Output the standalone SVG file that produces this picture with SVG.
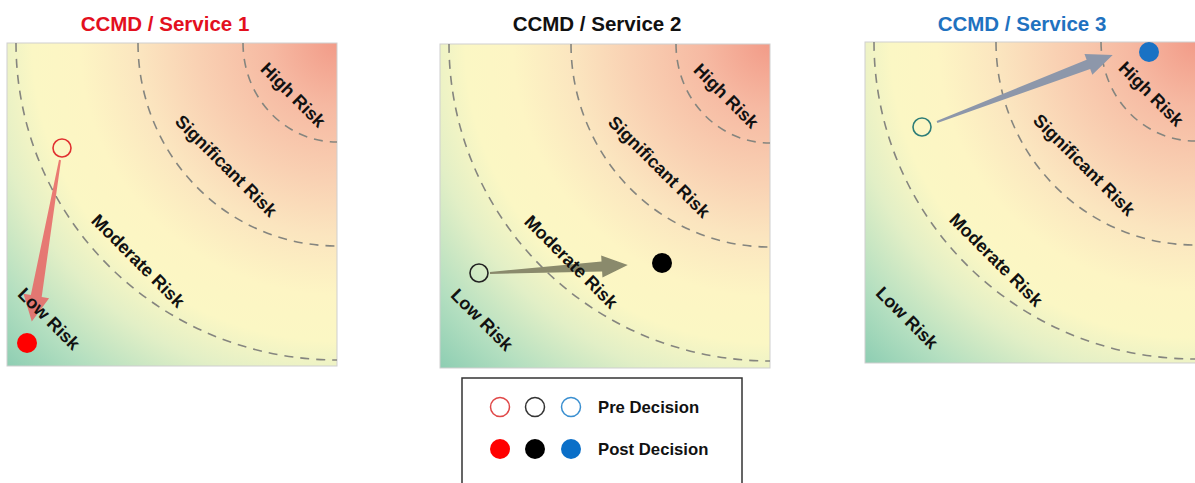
<svg xmlns="http://www.w3.org/2000/svg" width="1195" height="483" viewBox="0 0 1195 483">
<defs>
<radialGradient id="riskGrad" gradientUnits="objectBoundingBox" cx="1" cy="0" r="1.42">
<stop offset="0" stop-color="#f29b88"/>
<stop offset="0.14" stop-color="#f6b9a2"/>
<stop offset="0.3" stop-color="#f9d1b3"/>
<stop offset="0.42" stop-color="#fbe5bf"/>
<stop offset="0.55" stop-color="#fdf5c4"/>
<stop offset="0.65" stop-color="#fbf7c4"/>
<stop offset="0.75" stop-color="#e2efc6"/>
<stop offset="0.88" stop-color="#b4dfc0"/>
<stop offset="1" stop-color="#8ccdb2"/>
</radialGradient>
<style>
.bg{fill:url(#riskGrad);stroke:#cfcfcf;stroke-width:1}
.arc{fill:none;stroke:#85857f;stroke-width:1.6;stroke-dasharray:9 7}
.zone{font-family:"Liberation Sans",Arial,sans-serif;font-weight:bold;font-size:18px;fill:#111;text-anchor:middle;dominant-baseline:central}
.title{font-family:"Liberation Sans",Arial,sans-serif;font-weight:bold;font-size:20.5px;text-anchor:middle}
.leg{font-family:"Liberation Sans",Arial,sans-serif;font-weight:bold;font-size:16.7px;fill:#111}
</style>
<g id="arcs">
<path class="arc" d="M-94,0 A94 99 0 0 0 0,99"/>
<path class="arc" d="M-199,0 A199 203 0 0 0 0,203"/>
<path class="arc" d="M-321,0 A321 317 0 0 0 0,317"/>
</g>
<g id="labels">
<text class="zone" transform="translate(-44,52) rotate(45)">High Risk</text>
<text class="zone" transform="translate(-111,123) rotate(45)">Significant Risk</text>
<text class="zone" transform="translate(-199,218) rotate(45)">Moderate Risk</text>
<text class="zone" transform="translate(-288,276) rotate(45)">Low Risk</text>
</g>
</defs>

<g id="panel1">
<text class="title" x="165" y="31" fill="#e3101e">CCMD / Service 1</text>
<rect class="bg" x="7" y="43" width="330" height="323"/>
<use href="#arcs" transform="translate(337,43)"/>
</g>

<g id="panel2">
<text class="title" x="597" y="31" fill="#111">CCMD / Service 2</text>
<rect class="bg" x="440" y="44" width="330" height="324"/>
<use href="#arcs" transform="translate(770,44)"/>
</g>

<g id="panel3">
<text class="title" x="1022" y="31" fill="#1f72c0">CCMD / Service 3</text>
<rect class="bg" x="865" y="42" width="331" height="321"/>
<use href="#arcs" transform="translate(1195,42)"/>
</g>

<g id="connectors">
<polygon transform="translate(60,160) rotate(99.9)" points="0,-1 138,-5.5 138,-13 164,0 138,13 138,5.5 0,1" fill="#e86464" fill-opacity="0.85"/>
<polygon transform="translate(490,273) rotate(-3.32)" points="0,-1 112,-5 112,-11 138,0 112,11 112,5 0,1" fill="#8a8a6c"/>
<polygon transform="translate(937,122) rotate(-20.84)" points="0,-1 162,-5 162,-11 188,0 162,11 162,5 0,1" fill="#8d97aa"/>
</g>

<g id="panel1-marks">
<use href="#labels" transform="translate(337,43)"/>
<circle cx="62" cy="148" r="9" fill="none" stroke="#e03030" stroke-width="1.6"/>
<circle cx="27" cy="343" r="10" fill="#ff0000"/>
</g>

<g id="panel2-marks">
<use href="#labels" transform="translate(770,44)"/>
<circle cx="479" cy="273" r="9" fill="none" stroke="#222" stroke-width="1.6"/>
<circle cx="662" cy="263" r="10" fill="#000"/>
</g>

<g id="panel3-marks">
<use href="#labels" transform="translate(1195,42)"/>
<circle cx="922" cy="127" r="9" fill="none" stroke="#2e7d78" stroke-width="1.6"/>
<circle cx="1149" cy="52" r="10" fill="#1a72c4"/>
</g>

<g id="legend">
<rect x="462" y="378" width="280" height="120" fill="#fff" stroke="#333" stroke-width="1.5"/>
<circle cx="500" cy="407" r="9.5" fill="none" stroke="#e04848" stroke-width="1.5"/>
<circle cx="535" cy="407" r="9.5" fill="none" stroke="#333" stroke-width="1.5"/>
<circle cx="571" cy="407" r="9.5" fill="none" stroke="#3a8fd0" stroke-width="1.5"/>
<text class="leg" x="598" y="413">Pre Decision</text>
<circle cx="500" cy="449" r="10" fill="#ff0000"/>
<circle cx="535" cy="449" r="10" fill="#000"/>
<circle cx="571" cy="449" r="10" fill="#0a6fc8"/>
<text class="leg" x="598" y="455">Post Decision</text>
</g>
</svg>
